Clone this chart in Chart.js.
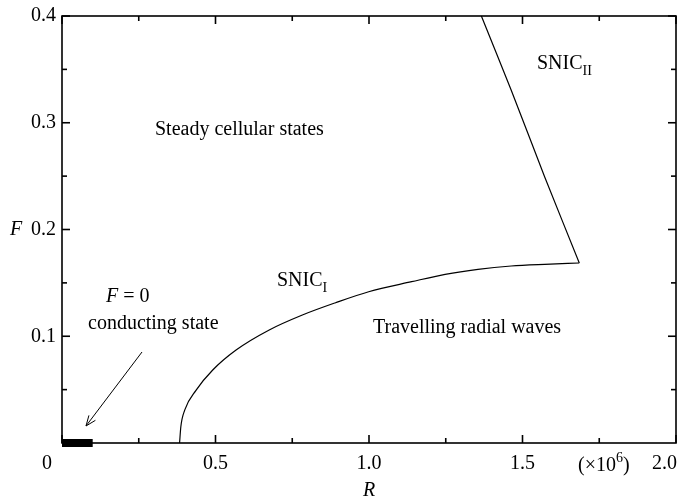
<!DOCTYPE html>
<html><head><meta charset="utf-8">
<script src="https://cdn.jsdelivr.net/npm/chart.js@4"></script>
<style>html,body{margin:0;padding:0;background:#fff}#wrap{width:687px;height:502px}</style>
</head><body><div id="wrap"><canvas id="c" width="687" height="502"></canvas></div>
<script>
// Data (R in units of 1e6, F)
const snic1R = [0.383, 0.387, 0.400, 0.437, 0.491, 0.567, 0.675, 0.783, 0.891, 0.999, 1.139, 1.248, 1.355, 1.463, 1.572, 1.685];
const snic1F = [0.000, 0.015, 0.031, 0.0496, 0.0684, 0.0871, 0.1059, 0.1199, 0.1314, 0.1417, 0.1511, 0.1580, 0.1627, 0.1658, 0.1674, 0.1686];
const snic2R = [1.685, 1.572, 1.463, 1.366];
const snic2F = [0.1686, 0.2495, 0.3307, 0.400];
const condR = [0, 0.1];
const condF = [0, 0];
const xMajorTicks = [0, 0.5, 1.0, 1.5, 2.0];
const xTickLabels = ['0', '0.5', '1.0', '1.5', '2.0'];
const xMinorTicks = [0.25, 0.75, 1.25, 1.75];
const yMajorTicks = [0.1, 0.2, 0.3, 0.4];
const yTickLabels = ['0.1', '0.2', '0.3', '0.4'];
const yMinorTicks = [0.05, 0.15, 0.25, 0.35];

const pts = (xs, ys) => xs.map((x, i) => ({x, y: ys[i]}));
const SERIF = '"Liberation Serif", "DejaVu Serif", serif';
const FS = 20, SUB = 14;

const decor = {
  id: 'decor',
  afterDraw(chart) {
    const ctx = chart.ctx, a = chart.chartArea;
    const xs = chart.scales.x, ys = chart.scales.y;
    ctx.save();
    ctx.strokeStyle = '#000';
    ctx.lineWidth = 1.6;
    ctx.strokeRect(a.left, a.top, a.right - a.left, a.bottom - a.top);
    const tick = (x1, y1, x2, y2) => { ctx.beginPath(); ctx.moveTo(x1, y1); ctx.lineTo(x2, y2); ctx.stroke(); };
    xMajorTicks.forEach(v => { const p = xs.getPixelForValue(v); tick(p, a.bottom, p, a.bottom - 8); tick(p, a.top, p, a.top + 8); });
    xMinorTicks.forEach(v => { const p = xs.getPixelForValue(v); tick(p, a.bottom, p, a.bottom - 5); tick(p, a.top, p, a.top + 5); });
    yMajorTicks.forEach(v => { const p = ys.getPixelForValue(v); tick(a.left, p, a.left + 8, p); tick(a.right, p, a.right - 8, p); });
    yMinorTicks.forEach(v => { const p = ys.getPixelForValue(v); tick(a.left, p, a.left + 5, p); tick(a.right, p, a.right - 5, p); });

    ctx.fillStyle = '#000';
    ctx.font = FS + 'px ' + SERIF;
    ctx.textBaseline = 'middle';
    // x tick labels
    xMajorTicks.forEach((v, i) => {
      let p = xs.getPixelForValue(v);
      if (i === 0) { ctx.textAlign = 'right'; p -= 10; }
      else if (i === xMajorTicks.length - 1) { ctx.textAlign = 'right'; p += 1; }
      else ctx.textAlign = 'center';
      ctx.fillText(xTickLabels[i], p, a.bottom + 21);
    });
    // y tick labels
    ctx.textAlign = 'right';
    yMajorTicks.forEach((v, i) => ctx.fillText(yTickLabels[i], a.left - 6, ys.getPixelForValue(v)));

    // axis titles
    ctx.font = 'italic ' + FS + 'px ' + SERIF;
    ctx.textAlign = 'center';
    ctx.fillText('F', 16, ys.getPixelForValue(0.2));
    ctx.fillText('R', xs.getPixelForValue(1.0), 491);
    ctx.font = FS + 'px ' + SERIF;
    ctx.textAlign = 'left';
    const ux = 578, uy = a.bottom + 23;
    ctx.fillText('(\u00d710', ux, uy);
    let w = ctx.measureText('(\u00d710').width;
    ctx.font = SUB + 'px ' + SERIF;
    ctx.fillText('6', ux + w, uy - 8);
    let w2 = ctx.measureText('6').width;
    ctx.font = FS + 'px ' + SERIF;
    ctx.fillText(')', ux + w + w2, uy);

    // region labels
    ctx.font = FS + 'px ' + SERIF;
    ctx.textAlign = 'left';
    ctx.fillText('Steady cellular states', 155, 130);
    ctx.fillText('Travelling radial waves', 373, 328);
    ctx.fillText('conducting state', 88, 324);
    // F = 0
    ctx.font = 'italic ' + FS + 'px ' + SERIF;
    ctx.fillText('F', 106, 297);
    let wf = ctx.measureText('F').width;
    ctx.font = FS + 'px ' + SERIF;
    ctx.fillText(' = 0', 106 + wf, 297);
    // SNIC labels with subscripts
    const snic = (x, y, sub) => {
      ctx.font = FS + 'px ' + SERIF;
      ctx.fillText('SNIC', x, y);
      const ww = ctx.measureText('SNIC').width;
      ctx.font = SUB + 'px ' + SERIF;
      ctx.fillText(sub, x + ww, y + 7);
    };
    snic(537, 64, 'II');
    snic(277, 281, 'I');

    // arrow
    ctx.lineWidth = 1;
    const x1 = 142, y1 = 352, x2 = 86, y2 = 426;
    tick(x1, y1, x2, y2);
    const ang = Math.atan2(y2 - y1, x2 - x1), L = 11, s = 0.38;
    ctx.beginPath();
    ctx.moveTo(x2 - L * Math.cos(ang - s), y2 - L * Math.sin(ang - s));
    ctx.lineTo(x2, y2);
    ctx.lineTo(x2 - L * Math.cos(ang + s), y2 - L * Math.sin(ang + s));
    ctx.stroke();
    ctx.restore();
  }
};

new Chart(document.getElementById('c'), {
  type: 'scatter',
  data: {
    datasets: [
      { data: pts(snic1R, snic1F), showLine: true, borderColor: '#000', borderWidth: 1.2, pointRadius: 0, cubicInterpolationMode: 'monotone', fill: false, clip: false },
      { data: pts(snic2R, snic2F), showLine: true, borderColor: '#000', borderWidth: 1.2, pointRadius: 0, tension: 0.2, fill: false, clip: false },
      { data: pts(condR, condF), showLine: true, borderColor: '#000', borderWidth: 8, borderCapStyle: 'butt', pointRadius: 0, fill: false, clip: false }
    ]
  },
  options: {
    responsive: false,
    animation: false,
    devicePixelRatio: 1,
    layout: { padding: { left: 62, right: 11, top: 16, bottom: 59 } },
    plugins: { legend: { display: false }, tooltip: { enabled: false } },
    scales: {
      x: { type: 'linear', min: 0, max: 2.0, display: false },
      y: { type: 'linear', min: 0, max: 0.4, display: false }
    }
  },
  plugins: [decor]
});
</script>
</body></html>
